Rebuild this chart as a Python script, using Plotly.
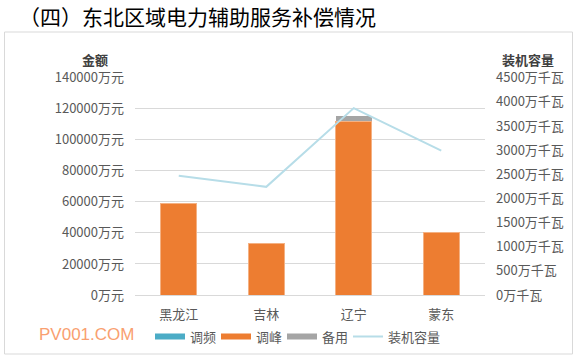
import plotly.graph_objects as go

regions = ["黑龙江", "吉林", "辽宁", "蒙东"]
freq_reg = [0, 0, 0, 0]            # 调频 (万元)
peak_reg = [59000, 33000, 112000, 40000]   # 调峰 (万元)
reserve = [0, 0, 3600, 0]          # 备用 (万元)
capacity = [2470, 2240, 3870, 2990]  # 装机容量 (万千瓦)

left_ticks = [0, 20000, 40000, 60000, 80000, 100000, 120000, 140000]
right_ticks = [0, 500, 1000, 1500, 2000, 2500, 3000, 3500, 4000, 4500]
left_labels = [f"{v}万元" for v in left_ticks]
right_labels = [f"{v}万千瓦" for v in right_ticks]

C_FREQ = "#4bacc6"
C_PEAK = "#ed7d31"
C_RES = "#a5a5a5"
C_CAP = "#b7dde8"
FONT = "Noto Sans CJK SC"
W, H = 578, 360

fig = go.Figure()
fig.add_trace(go.Bar(x=regions, y=freq_reg, marker=dict(color=C_FREQ, line=dict(width=0)),
                     showlegend=False, name="调频"))
fig.add_trace(go.Bar(x=regions, y=peak_reg, marker=dict(color=C_PEAK, line=dict(color="#f4b183", width=1)),
                     showlegend=False, name="调峰"))
fig.add_trace(go.Bar(x=regions, y=reserve, marker=dict(color=C_RES, line=dict(width=0)),
                     showlegend=False, name="备用"))
fig.add_trace(go.Scatter(x=regions, y=capacity, yaxis="y2", mode="lines",
                         line=dict(color=C_CAP, width=2), showlegend=False, name="装机容量"))

# legend entries, one legend each so they can be spaced like the original
legend_items = [("调频", C_FREQ, 6), ("调峰", C_PEAK, 6), ("备用", C_RES, 6), ("装机容量", C_CAP, 2)]
legend_layout = {}
for i, (nm, col, w) in enumerate(legend_items):
    key = "legend" if i == 0 else f"legend{i + 1}"
    fig.add_trace(go.Scatter(x=[None], y=[None], mode="lines", name=nm,
                             line=dict(color=col, width=w), showlegend=True, legend=key))
    legend_layout[key] = dict(orientation="h", x=(150 + 66 * i) / W, xanchor="left",
                              y=(H - 336.5) / H, yanchor="middle", itemwidth=30,
                              font=dict(size=13, color="#595959"), bgcolor="rgba(0,0,0,0)")

y0 = (H - 295) / H
y1 = (H - 77.7) / H
fig.update_layout(
    width=W, height=H,
    margin=dict(l=0, r=0, t=0, b=0, autoexpand=False),
    paper_bgcolor="white", plot_bgcolor="white",
    barmode="stack", bargap=0.59,
    font=dict(family=FONT, size=13, color="#595959"),
    xaxis=dict(domain=[135 / W, 485 / W], showgrid=False, showline=True, automargin=False,
               linecolor="#d9d9d9", linewidth=1, ticks="", tickfont=dict(size=13, color="#595959"),
               ticklabelstandoff=7, fixedrange=True),
    yaxis=dict(domain=[y0, y1], range=[0, 140000], tickmode="array", tickvals=left_ticks,
               ticktext=left_labels, automargin=False, ticklabelstandoff=10,
               showgrid=True, gridcolor="#d9d9d9", gridwidth=1,
               zeroline=False, showline=False, ticks="", tickfont=dict(size=13, color="#595959")),
    yaxis2=dict(overlaying="y", side="right", range=[0, 4500], tickmode="array",
                tickvals=right_ticks, ticktext=right_labels, automargin=False,
                ticklabelstandoff=10, showgrid=False, zeroline=False,
                showline=False, ticks="", anchor="x", tickfont=dict(size=13, color="#595959")),
    shapes=[dict(type="rect", xref="paper", yref="paper", x0=4.5 / W, x1=572.5 / W,
                 y0=(H - 354) / H, y1=(H - 32) / H, line=dict(color="#d9d9d9", width=1),
                 fillcolor="rgba(0,0,0,0)", layer="below")],
    annotations=[
        dict(text="（四）东北区域电力辅助服务补偿情况", xref="paper", yref="paper",
             x=17 / W, y=(H - 16) / H, xanchor="left", yanchor="middle", showarrow=False,
             font=dict(family=FONT, size=21, color="#000000")),
        dict(text="<b>金额</b>", xref="paper", yref="paper", x=95 / W, y=(H - 60) / H,
             xanchor="center", yanchor="middle", showarrow=False,
             font=dict(size=13, color="#404040")),
        dict(text="<b>装机容量</b>", xref="paper", yref="paper", x=528 / W, y=(H - 60) / H,
             xanchor="center", yanchor="middle", showarrow=False,
             font=dict(size=13, color="#404040")),
        dict(text="PV001.COM", xref="paper", yref="paper", x=37 / W, y=(H - 334.5) / H,
             xanchor="left", yanchor="middle", showarrow=False,
             font=dict(family="Liberation Sans", size=17, color="#f9a070")),
    ],
)
fig.update_layout(**legend_layout)

fig.write_html("out.html", config={"displayModeBar": False},
               post_script="document.body.style.margin='0px';")
